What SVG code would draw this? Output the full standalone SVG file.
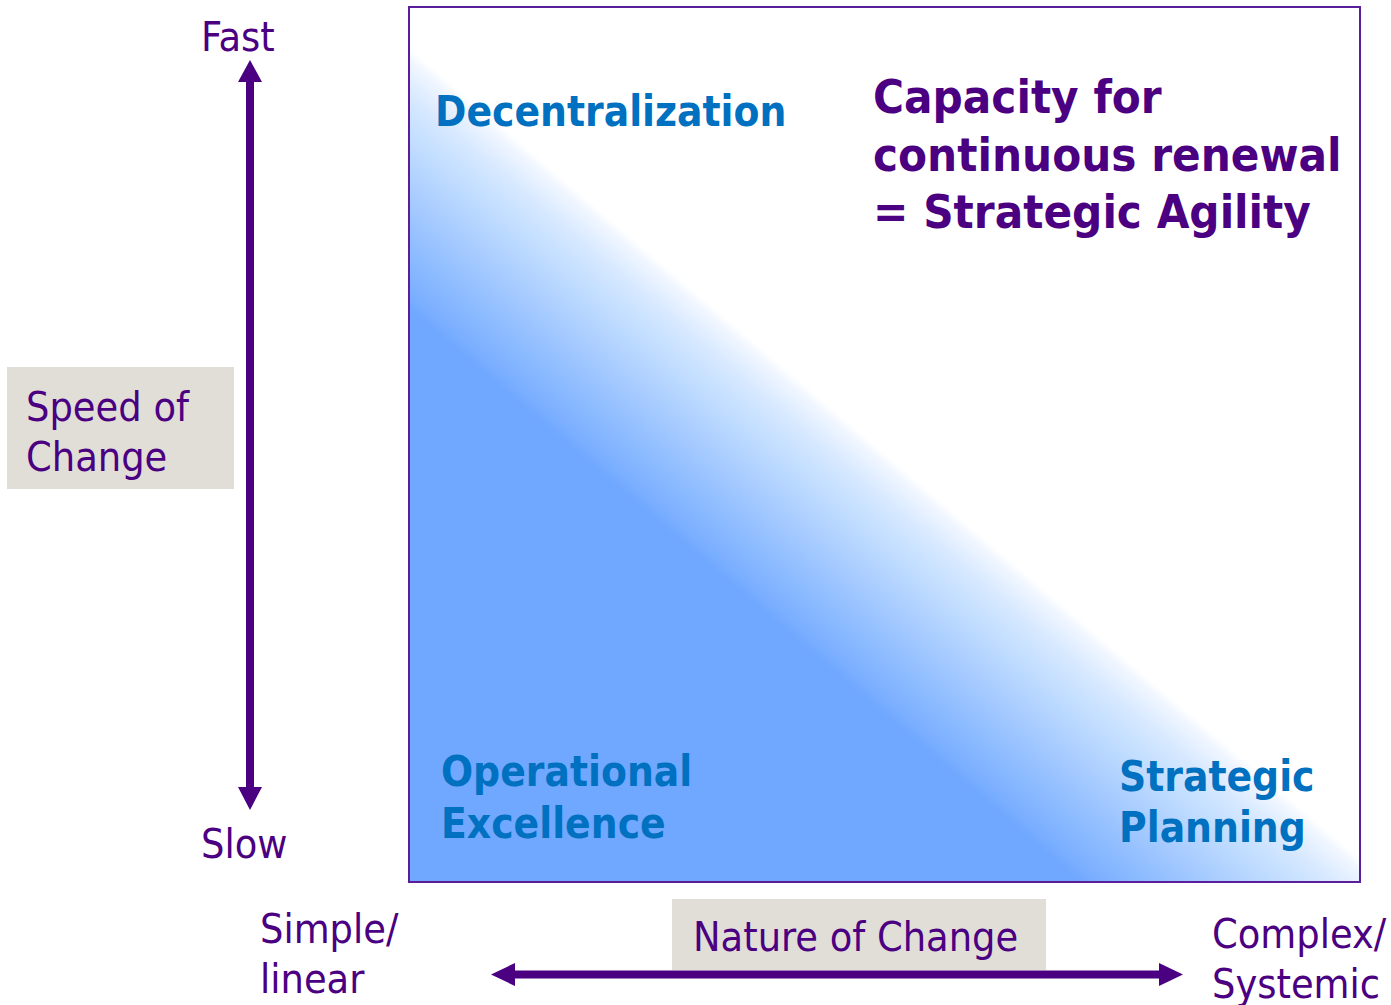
<svg xmlns="http://www.w3.org/2000/svg" width="1391" height="1005" viewBox="0 0 1391 1005">
  <style>
    .reg { font-family: "DejaVu Sans Condensed", "DejaVu Sans", sans-serif; font-stretch: condensed; fill: #4B0082; font-size: 41px; }
    .bold { font-family: "DejaVu Sans Condensed", "DejaVu Sans", sans-serif; font-stretch: condensed; font-weight: bold; }
    .blue { fill: #0070C0; font-size: 42px; }
    .purple { fill: #4B0082; font-size: 47px; }
    .box { fill: #E1DDD7; }
    .arrow { fill: #4B0082; }
  </style>
  <defs>
    <linearGradient id="fade" gradientUnits="userSpaceOnUse" x1="700" y1="295" x2="570.2" y2="447.2">
      <stop offset="0" stop-color="#ffffff"/>
      <stop offset="0.05" stop-color="#f0f6ff"/>
      <stop offset="0.18" stop-color="#d8e9ff"/>
      <stop offset="0.31" stop-color="#c6e0ff"/>
      <stop offset="0.43" stop-color="#b8d7ff"/>
      <stop offset="0.56" stop-color="#a8ccff"/>
      <stop offset="0.69" stop-color="#98c2ff"/>
      <stop offset="0.82" stop-color="#88b8ff"/>
      <stop offset="0.94" stop-color="#7aaeff"/>
      <stop offset="1" stop-color="#70a8ff"/>
    </linearGradient>
  </defs>

  <g id="matrix">
    <rect x="409" y="7" width="951" height="875" fill="#ffffff"/>
    <polygon points="409,46 1360,858 1360,882 409,882" fill="url(#fade)"/>
    <rect x="409" y="7" width="951" height="875" fill="none" stroke="#5A1E9A" stroke-width="2"/>
  </g>

  <g id="decentralization">
    <text class="bold blue" x="435" y="126">Decentralization</text>
  </g>

  <g id="strategic-agility">
    <text class="bold purple" x="873" y="113">Capacity for</text>
    <text class="bold purple" x="873" y="171">continuous renewal</text>
    <text class="bold purple" x="873" y="228">= Strategic Agility</text>
  </g>

  <g id="operational-excellence">
    <text class="bold blue" x="441" y="786">Operational</text>
    <text class="bold blue" x="441" y="838">Excellence</text>
  </g>

  <g id="strategic-planning">
    <text class="bold blue" x="1119" y="791">Strategic</text>
    <text class="bold blue" x="1119" y="842">Planning</text>
  </g>

  <g id="fast-label">
    <text class="reg" x="201" y="51">Fast</text>
  </g>
  <g id="slow-label">
    <text class="reg" x="201" y="858">Slow</text>
  </g>

  <g id="speed-of-change">
    <rect class="box" x="7" y="367" width="227" height="122"/>
    <text class="reg" x="26" y="421">Speed of</text>
    <text class="reg" x="26" y="471">Change</text>
  </g>

  <g id="simple-linear">
    <text class="reg" x="260" y="943">Simple/</text>
    <text class="reg" x="260" y="993">linear</text>
  </g>

  <g id="nature-of-change">
    <rect class="box" x="672" y="899" width="374" height="71"/>
    <text class="reg" x="693" y="951">Nature of Change</text>
  </g>

  <g id="complex-systemic">
    <text class="reg" x="1212" y="948">Complex/</text>
    <text class="reg" x="1212" y="998">Systemic</text>
  </g>

  <g id="connectors">
    <polygon class="arrow" points="250,60 262,82 254,82 254,787 262,787 250,810 238,787 246,787 246,82 238,82"/>
    <polygon class="arrow" points="491,974.5 515,963 515,970.5 1159,970.5 1159,963 1183,974.5 1159,986 1159,978.5 515,978.5 515,986"/>
  </g>
</svg>
